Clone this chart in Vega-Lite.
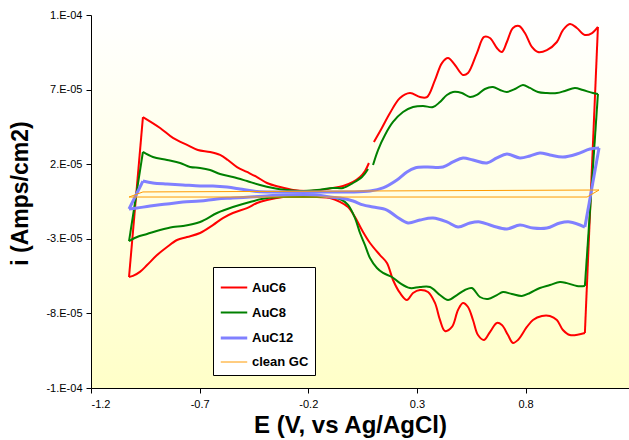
{
  "$schema": "https://vega.github.io/schema/vega-lite/v6.json",
  "width": 538,
  "height": 373,
  "autosize": {"type": "none"},
  "padding": {"left": 91, "top": 15, "right": 0, "bottom": 52},
  "background": "white",
  "config": {
    "view": {
      "stroke": null,
      "fill": {"gradient": "linear", "x1": 0, "y1": 0, "x2": 0, "y2": 1,
        "stops": [{"offset": 0, "color": "#FFFFFF"}, {"offset": 1, "color": "#FFFFC8"}]}
    },
    "axis": {
      "grid": false,
      "domainColor": "black",
      "tickColor": "black",
      "tickSize": 5,
      "labelFont": "Liberation Sans",
      "labelFontSize": 11,
      "labelColor": "black",
      "titleFont": "Liberation Sans",
      "titleFontSize": 23,
      "titleFontWeight": "bold",
      "titleColor": "black"
    },
    "legend": {
      "title": null,
      "fillColor": "white",
      "strokeColor": "black",
      "padding": 6,
      "labelFont": "Liberation Sans",
      "labelFontWeight": "bold",
      "labelFontSize": 13,
      "labelColor": "black",
      "labelOffset": 3,
      "symbolType": "stroke",
      "symbolSize": 700,
      "rowPadding": 3
    }
  },
  "data": {
    "values": [
      {"s":"AuC6","p":"L","o":0,"E":-1.025,"i":-5.56e-5},
      {"s":"AuC6","p":"L","o":1,"E":-0.961,"i":5.16e-5},
      {"s":"AuC6","p":"U","o":2,"E":-0.961,"i":5.16e-5},
      {"s":"AuC6","p":"U","o":3,"E":-0.882,"i":4.43e-5},
      {"s":"AuC6","p":"U","o":4,"E":-0.823,"i":3.76e-5},
      {"s":"AuC6","p":"U","o":5,"E":-0.758,"i":3.29e-5},
      {"s":"AuC6","p":"U","o":6,"E":-0.708,"i":2.95e-5},
      {"s":"AuC6","p":"U","o":7,"E":-0.652,"i":2.82e-5},
      {"s":"AuC6","p":"U","o":8,"E":-0.606,"i":2.62e-5},
      {"s":"AuC6","p":"U","o":9,"E":-0.570,"i":2.28e-5},
      {"s":"AuC6","p":"U","o":10,"E":-0.528,"i":1.81e-5},
      {"s":"AuC6","p":"U","o":11,"E":-0.482,"i":1.48e-5},
      {"s":"AuC6","p":"U","o":12,"E":-0.436,"i":1.14e-5},
      {"s":"AuC6","p":"U","o":13,"E":-0.390,"i":0.74e-5},
      {"s":"AuC6","p":"U","o":14,"E":-0.330,"i":0.47e-5},
      {"s":"AuC6","p":"U","o":15,"E":-0.270,"i":0.27e-5},
      {"s":"AuC6","p":"U","o":16,"E":-0.206,"i":0.20e-5},
      {"s":"AuC6","p":"U","o":17,"E":-0.146,"i":0.27e-5},
      {"s":"AuC6","p":"U","o":18,"E":-0.086,"i":0.41e-5},
      {"s":"AuC6","p":"U","o":19,"E":-0.040,"i":0.54e-5},
      {"s":"AuC6","p":"U","o":20,"E":0.006,"i":0.81e-5},
      {"s":"AuC6","p":"U","o":21,"E":0.038,"i":1.14e-5},
      {"s":"AuC6","p":"U","o":22,"E":0.061,"i":1.54e-5},
      {"s":"AuC6","p":"U","o":23,"E":0.079,"i":2.08e-5},
      {"s":"AuC6","p":"U","o":24,"E":0.090,"i":null},
      {"s":"AuC6","p":"U","o":25,"E":0.102,"i":3.49e-5},
      {"s":"AuC6","p":"U","o":26,"E":0.138,"i":4.41e-5},
      {"s":"AuC6","p":"U","o":27,"E":0.176,"i":5.43e-5},
      {"s":"AuC6","p":"U","o":28,"E":0.222,"i":6.44e-5},
      {"s":"AuC6","p":"U","o":29,"E":0.268,"i":6.77e-5},
      {"s":"AuC6","p":"U","o":30,"E":0.314,"i":6.50e-5},
      {"s":"AuC6","p":"U","o":31,"E":0.346,"i":6.50e-5},
      {"s":"AuC6","p":"U","o":32,"E":0.383,"i":7.64e-5},
      {"s":"AuC6","p":"U","o":33,"E":0.415,"i":8.78e-5},
      {"s":"AuC6","p":"U","o":34,"E":0.443,"i":9.12e-5},
      {"s":"AuC6","p":"U","o":35,"E":0.475,"i":8.65e-5},
      {"s":"AuC6","p":"U","o":36,"E":0.512,"i":7.98e-5},
      {"s":"AuC6","p":"U","o":37,"E":0.535,"i":8.11e-5},
      {"s":"AuC6","p":"U","o":38,"E":0.576,"i":9.45e-5},
      {"s":"AuC6","p":"U","o":39,"E":0.609,"i":10.53e-5},
      {"s":"AuC6","p":"U","o":40,"E":0.636,"i":10.46e-5},
      {"s":"AuC6","p":"U","o":41,"E":0.668,"i":9.79e-5},
      {"s":"AuC6","p":"U","o":42,"E":0.691,"i":9.52e-5},
      {"s":"AuC6","p":"U","o":43,"E":0.714,"i":10.19e-5},
      {"s":"AuC6","p":"U","o":44,"E":0.742,"i":11.13e-5},
      {"s":"AuC6","p":"U","o":45,"E":0.770,"i":11.26e-5},
      {"s":"AuC6","p":"U","o":46,"E":0.797,"i":10.79e-5},
      {"s":"AuC6","p":"U","o":47,"E":0.829,"i":9.86e-5},
      {"s":"AuC6","p":"U","o":48,"E":0.857,"i":9.52e-5},
      {"s":"AuC6","p":"U","o":49,"E":0.898,"i":9.65e-5},
      {"s":"AuC6","p":"U","o":50,"E":0.944,"i":10.19e-5},
      {"s":"AuC6","p":"U","o":51,"E":0.972,"i":10.99e-5},
      {"s":"AuC6","p":"U","o":52,"E":1.004,"i":11.40e-5},
      {"s":"AuC6","p":"U","o":53,"E":1.036,"i":11.13e-5},
      {"s":"AuC6","p":"U","o":54,"E":1.073,"i":10.66e-5},
      {"s":"AuC6","p":"U","o":55,"E":1.106,"i":10.79e-5},
      {"s":"AuC6","p":"U","o":56,"E":1.133,"i":11.20e-5},
      {"s":"AuC6","p":"R","o":56,"E":1.133,"i":11.20e-5},
      {"s":"AuC6","p":"R","o":57,"E":1.073,"i":-9.31e-5},
      {"s":"AuC6","p":"D","o":57,"E":1.073,"i":-9.31e-5},
      {"s":"AuC6","p":"D","o":58,"E":1.004,"i":-9.45e-5},
      {"s":"AuC6","p":"D","o":59,"E":0.972,"i":-9.11e-5},
      {"s":"AuC6","p":"D","o":60,"E":0.944,"i":-8.44e-5},
      {"s":"AuC6","p":"D","o":61,"E":0.912,"i":-8.17e-5},
      {"s":"AuC6","p":"D","o":62,"E":0.875,"i":-8.17e-5},
      {"s":"AuC6","p":"D","o":63,"E":0.834,"i":-8.44e-5},
      {"s":"AuC6","p":"D","o":64,"E":0.806,"i":-8.91e-5},
      {"s":"AuC6","p":"D","o":65,"E":0.765,"i":-9.78e-5},
      {"s":"AuC6","p":"D","o":66,"E":0.742,"i":-9.98e-5},
      {"s":"AuC6","p":"D","o":67,"E":0.719,"i":-9.45e-5},
      {"s":"AuC6","p":"D","o":68,"E":0.691,"i":-8.78e-5},
      {"s":"AuC6","p":"D","o":69,"E":0.668,"i":-8.64e-5},
      {"s":"AuC6","p":"D","o":70,"E":0.636,"i":-9.25e-5},
      {"s":"AuC6","p":"D","o":71,"E":0.609,"i":-9.78e-5},
      {"s":"AuC6","p":"D","o":72,"E":0.581,"i":-9.45e-5},
      {"s":"AuC6","p":"D","o":73,"E":0.558,"i":-8.44e-5},
      {"s":"AuC6","p":"D","o":74,"E":0.535,"i":-7.57e-5},
      {"s":"AuC6","p":"D","o":75,"E":0.512,"i":-7.30e-5},
      {"s":"AuC6","p":"D","o":76,"E":0.489,"i":-7.77e-5},
      {"s":"AuC6","p":"D","o":77,"E":0.461,"i":-8.91e-5},
      {"s":"AuC6","p":"D","o":78,"E":0.429,"i":-9.18e-5},
      {"s":"AuC6","p":"D","o":79,"E":0.406,"i":-8.44e-5},
      {"s":"AuC6","p":"D","o":80,"E":0.383,"i":-7.30e-5},
      {"s":"AuC6","p":"D","o":81,"E":0.351,"i":-6.57e-5},
      {"s":"AuC6","p":"D","o":82,"E":0.314,"i":-6.43e-5},
      {"s":"AuC6","p":"D","o":83,"E":0.282,"i":-6.63e-5},
      {"s":"AuC6","p":"D","o":84,"E":0.254,"i":-7.10e-5},
      {"s":"AuC6","p":"D","o":85,"E":0.222,"i":-6.63e-5},
      {"s":"AuC6","p":"D","o":86,"E":0.190,"i":-5.76e-5},
      {"s":"AuC6","p":"D","o":87,"E":0.162,"i":-4.62e-5},
      {"s":"AuC6","p":"D","o":88,"E":0.130,"i":-4.09e-5},
      {"s":"AuC6","p":"D","o":89,"E":0.084,"i":-3.28e-5},
      {"s":"AuC6","p":"D","o":90,"E":0.047,"i":-2.41e-5},
      {"s":"AuC6","p":"D","o":91,"E":0.015,"i":-1.54e-5},
      {"s":"AuC6","p":"D","o":92,"E":-0.017,"i":-0.87e-5},
      {"s":"AuC6","p":"D","o":93,"E":-0.054,"i":-0.53e-5},
      {"s":"AuC6","p":"D","o":94,"E":-0.100,"i":-0.27e-5},
      {"s":"AuC6","p":"D","o":95,"E":-0.160,"i":-0.20e-5},
      {"s":"AuC6","p":"D","o":96,"E":-0.238,"i":-0.13e-5},
      {"s":"AuC6","p":"D","o":97,"E":-0.316,"i":-0.20e-5},
      {"s":"AuC6","p":"D","o":98,"E":-0.390,"i":-0.40e-5},
      {"s":"AuC6","p":"D","o":99,"E":-0.436,"i":-0.60e-5},
      {"s":"AuC6","p":"D","o":100,"E":-0.482,"i":-0.94e-5},
      {"s":"AuC6","p":"D","o":101,"E":-0.547,"i":-1.27e-5},
      {"s":"AuC6","p":"D","o":102,"E":-0.593,"i":-1.61e-5},
      {"s":"AuC6","p":"D","o":103,"E":-0.639,"i":-2.08e-5},
      {"s":"AuC6","p":"D","o":104,"E":-0.698,"i":-2.61e-5},
      {"s":"AuC6","p":"D","o":105,"E":-0.758,"i":-2.88e-5},
      {"s":"AuC6","p":"D","o":106,"E":-0.804,"i":-3.08e-5},
      {"s":"AuC6","p":"D","o":107,"E":-0.850,"i":-3.55e-5},
      {"s":"AuC6","p":"D","o":108,"E":-0.896,"i":-4.09e-5},
      {"s":"AuC6","p":"D","o":109,"E":-0.942,"i":-4.76e-5},
      {"s":"AuC6","p":"D","o":110,"E":-0.975,"i":-5.22e-5},
      {"s":"AuC6","p":"D","o":111,"E":-1.007,"i":-5.49e-5},
      {"s":"AuC6","p":"D","o":112,"E":-1.025,"i":-5.56e-5},

      {"s":"AuC8","p":"L","o":0,"E":-1.025,"i":-3.15e-5},
      {"s":"AuC8","p":"L","o":1,"E":-0.961,"i":2.82e-5},
      {"s":"AuC8","p":"U","o":2,"E":-0.961,"i":2.82e-5},
      {"s":"AuC8","p":"U","o":3,"E":-0.915,"i":2.48e-5},
      {"s":"AuC8","p":"U","o":4,"E":-0.850,"i":2.28e-5},
      {"s":"AuC8","p":"U","o":5,"E":-0.790,"i":2.08e-5},
      {"s":"AuC8","p":"U","o":6,"E":-0.744,"i":1.81e-5},
      {"s":"AuC8","p":"U","o":7,"E":-0.698,"i":1.75e-5},
      {"s":"AuC8","p":"U","o":8,"E":-0.652,"i":1.61e-5},
      {"s":"AuC8","p":"U","o":9,"E":-0.606,"i":1.34e-5},
      {"s":"AuC8","p":"U","o":10,"E":-0.547,"i":1.14e-5},
      {"s":"AuC8","p":"U","o":11,"E":-0.482,"i":0.87e-5},
      {"s":"AuC8","p":"U","o":12,"E":-0.422,"i":0.61e-5},
      {"s":"AuC8","p":"U","o":13,"E":-0.362,"i":0.41e-5},
      {"s":"AuC8","p":"U","o":14,"E":-0.298,"i":0.27e-5},
      {"s":"AuC8","p":"U","o":15,"E":-0.238,"i":0.20e-5},
      {"s":"AuC8","p":"U","o":16,"E":-0.160,"i":0.27e-5},
      {"s":"AuC8","p":"U","o":17,"E":-0.086,"i":0.41e-5},
      {"s":"AuC8","p":"U","o":18,"E":-0.040,"i":0.41e-5},
      {"s":"AuC8","p":"U","o":19,"E":0.006,"i":0.74e-5},
      {"s":"AuC8","p":"U","o":20,"E":0.047,"i":1.14e-5},
      {"s":"AuC8","p":"U","o":21,"E":0.075,"i":1.68e-5},
      {"s":"AuC8","p":"U","o":22,"E":0.086,"i":null},
      {"s":"AuC8","p":"U","o":23,"E":0.098,"i":1.95e-5},
      {"s":"AuC8","p":"U","o":24,"E":0.121,"i":2.95e-5},
      {"s":"AuC8","p":"U","o":25,"E":0.153,"i":3.96e-5},
      {"s":"AuC8","p":"U","o":26,"E":0.190,"i":4.83e-5},
      {"s":"AuC8","p":"U","o":27,"E":0.236,"i":5.50e-5},
      {"s":"AuC8","p":"U","o":28,"E":0.282,"i":5.83e-5},
      {"s":"AuC8","p":"U","o":29,"E":0.328,"i":5.90e-5},
      {"s":"AuC8","p":"U","o":30,"E":0.374,"i":5.83e-5},
      {"s":"AuC8","p":"U","o":31,"E":0.406,"i":6.17e-5},
      {"s":"AuC8","p":"U","o":32,"E":0.438,"i":6.64e-5},
      {"s":"AuC8","p":"U","o":33,"E":0.466,"i":6.84e-5},
      {"s":"AuC8","p":"U","o":34,"E":0.507,"i":6.77e-5},
      {"s":"AuC8","p":"U","o":35,"E":0.544,"i":6.50e-5},
      {"s":"AuC8","p":"U","o":36,"E":0.576,"i":6.64e-5},
      {"s":"AuC8","p":"U","o":37,"E":0.613,"i":7.04e-5},
      {"s":"AuC8","p":"U","o":38,"E":0.650,"i":7.17e-5},
      {"s":"AuC8","p":"U","o":39,"E":0.682,"i":6.97e-5},
      {"s":"AuC8","p":"U","o":40,"E":0.714,"i":6.84e-5},
      {"s":"AuC8","p":"U","o":41,"E":0.751,"i":7.04e-5},
      {"s":"AuC8","p":"U","o":42,"E":0.788,"i":7.31e-5},
      {"s":"AuC8","p":"U","o":43,"E":0.820,"i":7.11e-5},
      {"s":"AuC8","p":"U","o":44,"E":0.857,"i":6.84e-5},
      {"s":"AuC8","p":"U","o":45,"E":0.898,"i":6.77e-5},
      {"s":"AuC8","p":"U","o":46,"E":0.944,"i":6.77e-5},
      {"s":"AuC8","p":"U","o":47,"E":0.981,"i":6.91e-5},
      {"s":"AuC8","p":"U","o":48,"E":1.027,"i":7.11e-5},
      {"s":"AuC8","p":"U","o":49,"E":1.064,"i":6.97e-5},
      {"s":"AuC8","p":"U","o":50,"E":1.110,"i":6.77e-5},
      {"s":"AuC8","p":"U","o":51,"E":1.133,"i":6.71e-5},
      {"s":"AuC8","p":"R","o":51,"E":1.133,"i":6.71e-5},
      {"s":"AuC8","p":"R","o":52,"E":1.073,"i":-6.16e-5},
      {"s":"AuC8","p":"D","o":52,"E":1.073,"i":-6.16e-5},
      {"s":"AuC8","p":"D","o":53,"E":1.036,"i":-6.16e-5},
      {"s":"AuC8","p":"D","o":54,"E":0.990,"i":-5.97e-5},
      {"s":"AuC8","p":"D","o":55,"E":0.958,"i":-5.90e-5},
      {"s":"AuC8","p":"D","o":56,"E":0.912,"i":-6.10e-5},
      {"s":"AuC8","p":"D","o":57,"E":0.866,"i":-6.30e-5},
      {"s":"AuC8","p":"D","o":58,"E":0.820,"i":-6.63e-5},
      {"s":"AuC8","p":"D","o":59,"E":0.783,"i":-6.83e-5},
      {"s":"AuC8","p":"D","o":60,"E":0.737,"i":-6.70e-5},
      {"s":"AuC8","p":"D","o":61,"E":0.696,"i":-6.57e-5},
      {"s":"AuC8","p":"D","o":62,"E":0.668,"i":-6.77e-5},
      {"s":"AuC8","p":"D","o":63,"E":0.627,"i":-7.03e-5},
      {"s":"AuC8","p":"D","o":64,"E":0.590,"i":-6.90e-5},
      {"s":"AuC8","p":"D","o":65,"E":0.553,"i":-6.30e-5},
      {"s":"AuC8","p":"D","o":66,"E":0.521,"i":-6.43e-5},
      {"s":"AuC8","p":"D","o":67,"E":0.484,"i":-6.77e-5},
      {"s":"AuC8","p":"D","o":68,"E":0.443,"i":-7.10e-5},
      {"s":"AuC8","p":"D","o":69,"E":0.406,"i":-6.77e-5},
      {"s":"AuC8","p":"D","o":70,"E":0.360,"i":-6.23e-5},
      {"s":"AuC8","p":"D","o":71,"E":0.314,"i":-6.23e-5},
      {"s":"AuC8","p":"D","o":72,"E":0.268,"i":-6.30e-5},
      {"s":"AuC8","p":"D","o":73,"E":0.222,"i":-5.97e-5},
      {"s":"AuC8","p":"D","o":74,"E":0.185,"i":-5.56e-5},
      {"s":"AuC8","p":"D","o":75,"E":0.144,"i":-5.29e-5},
      {"s":"AuC8","p":"D","o":76,"E":0.116,"i":-4.96e-5},
      {"s":"AuC8","p":"D","o":77,"E":0.084,"i":-4.29e-5},
      {"s":"AuC8","p":"D","o":78,"E":0.061,"i":-3.42e-5},
      {"s":"AuC8","p":"D","o":79,"E":0.038,"i":-2.61e-5},
      {"s":"AuC8","p":"D","o":80,"E":0.015,"i":-1.61e-5},
      {"s":"AuC8","p":"D","o":81,"E":-0.017,"i":-0.73e-5},
      {"s":"AuC8","p":"D","o":82,"E":-0.045,"i":-0.40e-5},
      {"s":"AuC8","p":"D","o":83,"E":-0.100,"i":-0.20e-5},
      {"s":"AuC8","p":"D","o":84,"E":-0.160,"i":-0.20e-5},
      {"s":"AuC8","p":"D","o":85,"E":-0.238,"i":-0.20e-5},
      {"s":"AuC8","p":"D","o":86,"E":-0.316,"i":-0.20e-5},
      {"s":"AuC8","p":"D","o":87,"E":-0.390,"i":-0.27e-5},
      {"s":"AuC8","p":"D","o":88,"E":-0.468,"i":-0.53e-5},
      {"s":"AuC8","p":"D","o":89,"E":-0.547,"i":-0.87e-5},
      {"s":"AuC8","p":"D","o":90,"E":-0.620,"i":-1.27e-5},
      {"s":"AuC8","p":"D","o":91,"E":-0.698,"i":-1.87e-5},
      {"s":"AuC8","p":"D","o":92,"E":-0.777,"i":-2.14e-5},
      {"s":"AuC8","p":"D","o":93,"E":-0.823,"i":-2.21e-5},
      {"s":"AuC8","p":"D","o":94,"E":-0.882,"i":-2.41e-5},
      {"s":"AuC8","p":"D","o":95,"E":-0.942,"i":-2.68e-5},
      {"s":"AuC8","p":"D","o":96,"E":-0.988,"i":-2.88e-5},
      {"s":"AuC8","p":"D","o":97,"E":-1.025,"i":-3.15e-5},

      {"s":"AuC12","p":"L","o":0,"E":-1.025,"i":-1.00e-5},
      {"s":"AuC12","p":"L","o":1,"E":-0.961,"i":0.87e-5},
      {"s":"AuC12","p":"U","o":2,"E":-0.961,"i":0.87e-5},
      {"s":"AuC12","p":"U","o":3,"E":-0.915,"i":0.74e-5},
      {"s":"AuC12","p":"U","o":4,"E":-0.850,"i":0.67e-5},
      {"s":"AuC12","p":"U","o":5,"E":-0.777,"i":0.61e-5},
      {"s":"AuC12","p":"U","o":6,"E":-0.698,"i":0.54e-5},
      {"s":"AuC12","p":"U","o":7,"E":-0.639,"i":0.54e-5},
      {"s":"AuC12","p":"U","o":8,"E":-0.574,"i":0.47e-5},
      {"s":"AuC12","p":"U","o":9,"E":-0.514,"i":0.34e-5},
      {"s":"AuC12","p":"U","o":10,"E":-0.454,"i":0.20e-5},
      {"s":"AuC12","p":"U","o":11,"E":-0.390,"i":0.14e-5},
      {"s":"AuC12","p":"U","o":12,"E":-0.238,"i":0.14e-5},
      {"s":"AuC12","p":"U","o":13,"E":-0.086,"i":0.14e-5},
      {"s":"AuC12","p":"U","o":14,"E":-0.008,"i":0.14e-5},
      {"s":"AuC12","p":"U","o":15,"E":0.084,"i":0.20e-5},
      {"s":"AuC12","p":"U","o":16,"E":0.144,"i":0.41e-5},
      {"s":"AuC12","p":"U","o":17,"E":0.208,"i":0.94e-5},
      {"s":"AuC12","p":"U","o":18,"E":0.254,"i":1.48e-5},
      {"s":"AuC12","p":"U","o":19,"E":0.291,"i":1.75e-5},
      {"s":"AuC12","p":"U","o":20,"E":0.346,"i":1.81e-5},
      {"s":"AuC12","p":"U","o":21,"E":0.420,"i":1.81e-5},
      {"s":"AuC12","p":"U","o":22,"E":0.466,"i":2.15e-5},
      {"s":"AuC12","p":"U","o":23,"E":0.512,"i":2.42e-5},
      {"s":"AuC12","p":"U","o":24,"E":0.558,"i":2.28e-5},
      {"s":"AuC12","p":"U","o":25,"E":0.622,"i":2.08e-5},
      {"s":"AuC12","p":"U","o":26,"E":0.668,"i":2.42e-5},
      {"s":"AuC12","p":"U","o":27,"E":0.714,"i":2.68e-5},
      {"s":"AuC12","p":"U","o":28,"E":0.774,"i":2.42e-5},
      {"s":"AuC12","p":"U","o":29,"E":0.820,"i":2.55e-5},
      {"s":"AuC12","p":"U","o":30,"E":0.866,"i":2.75e-5},
      {"s":"AuC12","p":"U","o":31,"E":0.912,"i":2.62e-5},
      {"s":"AuC12","p":"U","o":32,"E":0.972,"i":2.48e-5},
      {"s":"AuC12","p":"U","o":33,"E":1.036,"i":2.68e-5},
      {"s":"AuC12","p":"U","o":34,"E":1.096,"i":3.02e-5},
      {"s":"AuC12","p":"U","o":35,"E":1.138,"i":3.09e-5},
      {"s":"AuC12","p":"R","o":35,"E":1.138,"i":3.09e-5},
      {"s":"AuC12","p":"R","o":36,"E":1.073,"i":-2.21e-5},
      {"s":"AuC12","p":"D","o":36,"E":1.073,"i":-2.21e-5},
      {"s":"AuC12","p":"D","o":37,"E":1.004,"i":-1.87e-5},
      {"s":"AuC12","p":"D","o":38,"E":0.958,"i":-1.94e-5},
      {"s":"AuC12","p":"D","o":39,"E":0.898,"i":-2.28e-5},
      {"s":"AuC12","p":"D","o":40,"E":0.834,"i":-2.28e-5},
      {"s":"AuC12","p":"D","o":41,"E":0.774,"i":-2.08e-5},
      {"s":"AuC12","p":"D","o":42,"E":0.714,"i":-2.34e-5},
      {"s":"AuC12","p":"D","o":43,"E":0.650,"i":-2.14e-5},
      {"s":"AuC12","p":"D","o":44,"E":0.590,"i":-1.87e-5},
      {"s":"AuC12","p":"D","o":45,"E":0.544,"i":-1.94e-5},
      {"s":"AuC12","p":"D","o":46,"E":0.489,"i":-2.21e-5},
      {"s":"AuC12","p":"D","o":47,"E":0.438,"i":-1.87e-5},
      {"s":"AuC12","p":"D","o":48,"E":0.374,"i":-1.61e-5},
      {"s":"AuC12","p":"D","o":49,"E":0.314,"i":-1.74e-5},
      {"s":"AuC12","p":"D","o":50,"E":0.259,"i":-1.94e-5},
      {"s":"AuC12","p":"D","o":51,"E":0.208,"i":-1.54e-5},
      {"s":"AuC12","p":"D","o":52,"E":0.162,"i":-1.07e-5},
      {"s":"AuC12","p":"D","o":53,"E":0.098,"i":-0.87e-5},
      {"s":"AuC12","p":"D","o":54,"E":0.052,"i":-0.73e-5},
      {"s":"AuC12","p":"D","o":55,"E":0.006,"i":-0.47e-5},
      {"s":"AuC12","p":"D","o":56,"E":-0.054,"i":-0.27e-5},
      {"s":"AuC12","p":"D","o":57,"E":-0.100,"i":-0.20e-5},
      {"s":"AuC12","p":"D","o":58,"E":-0.160,"i":-0.06e-5},
      {"s":"AuC12","p":"D","o":59,"E":-0.316,"i":-0.06e-5},
      {"s":"AuC12","p":"D","o":60,"E":-0.390,"i":-0.13e-5},
      {"s":"AuC12","p":"D","o":61,"E":-0.468,"i":-0.20e-5},
      {"s":"AuC12","p":"D","o":62,"E":-0.547,"i":-0.27e-5},
      {"s":"AuC12","p":"D","o":63,"E":-0.620,"i":-0.33e-5},
      {"s":"AuC12","p":"D","o":64,"E":-0.698,"i":-0.47e-5},
      {"s":"AuC12","p":"D","o":65,"E":-0.777,"i":-0.53e-5},
      {"s":"AuC12","p":"D","o":66,"E":-0.850,"i":-0.67e-5},
      {"s":"AuC12","p":"D","o":67,"E":-0.928,"i":-0.80e-5},
      {"s":"AuC12","p":"D","o":68,"E":-0.988,"i":-0.94e-5},
      {"s":"AuC12","p":"D","o":69,"E":-1.025,"i":-1.00e-5},

      {"s":"clean GC","p":"L","o":0,"E":-1.025,"i":-0.20e-5},
      {"s":"clean GC","p":"L","o":1,"E":-0.961,"i":0.14e-5},
      {"s":"clean GC","p":"U","o":1,"E":-0.961,"i":0.14e-5},
      {"s":"clean GC","p":"U","o":2,"E":1.138,"i":0.27e-5},
      {"s":"clean GC","p":"R","o":2,"E":1.138,"i":0.27e-5},
      {"s":"clean GC","p":"R","o":3,"E":1.083,"i":-0.20e-5},
      {"s":"clean GC","p":"D","o":3,"E":1.083,"i":-0.20e-5},
      {"s":"clean GC","p":"D","o":4,"E":-1.025,"i":-0.20e-5}
    ]
  },
  "mark": {"type": "line", "invalid": "break-paths-filter-domains", "clip": false, "interpolate": "catmull-rom", "strokeJoin": "round"},
  "encoding": {
    "x": {
      "field": "E", "type": "quantitative",
      "scale": {"domain": [-1.2, 1.276], "nice": false, "zero": false},
      "axis": {
        "title": "E (V, vs Ag/AgCl)",
        "values": [-1.2, -0.7, -0.2, 0.3, 0.8],
        "labelExpr": "replace(format(datum.value, '.1f'), '\u2212', '-')",
        "labelPadding": 5,
        "titleBaseline": "alphabetic",
        "titleFontSize": 24,
        "titleX": 259,
        "titleY": 44
      }
    },
    "y": {
      "field": "i", "type": "quantitative",
      "scale": {"domain": [-0.00013, 0.00012], "nice": false, "zero": false},
      "axis": {
        "title": "i (Amps/cm2)",
        "values": [-0.00013, -0.00008, -0.00003, 0.00002, 0.00007, 0.00012],
        "labelExpr": "replace(replace(format(datum.value, '.0e'), '\u2212', '-'), 'e-', '.E-0')",
        "labelPadding": 4,
        "titleX": -59,
        "titleY": 178
      }
    },
    "detail": {"field": "p", "type": "nominal"},
    "order": {"field": "o", "type": "quantitative"},
    "color": {
      "field": "s", "type": "nominal",
      "scale": {"domain": ["AuC6", "AuC8", "AuC12", "clean GC"], "range": ["#FF0000", "#008000", "#8080FF", "#FF9A00"]},
      "legend": {"orient": "none", "legendX": 122, "legendY": 252}
    },
    "strokeWidth": {
      "field": "s", "type": "nominal",
      "scale": {"type": "ordinal", "domain": ["AuC6", "AuC8", "AuC12", "clean GC"], "range": [2, 2, 3, 1]},
      "legend": {"orient": "none", "legendX": 122, "legendY": 252}
    }
  }
}
